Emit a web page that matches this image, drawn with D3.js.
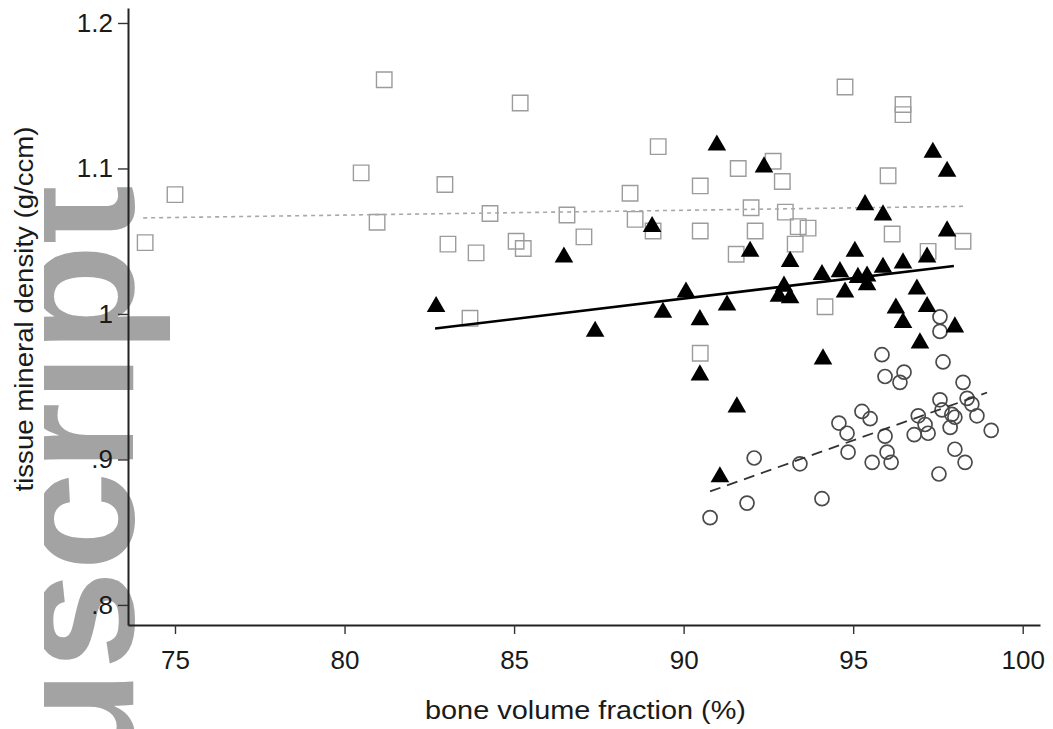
<!DOCTYPE html>
<html><head><meta charset="utf-8">
<script src="https://cdn.jsdelivr.net/npm/d3@7"></script>
<style>body{margin:0;background:#fff}svg{display:block}</style>
</head><body><svg id="c" width="1053" height="729"></svg>
<script>
// ---- data ----
const squareX=[74.12,75.0,80.49,81.17,80.96,82.96,83.05,83.70,83.88,84.29,85.06,85.27,85.18,86.56,87.06,88.42,88.57,89.10,89.25,90.49,90.49,90.49,91.55,91.61,91.99,92.11,92.64,92.91,93.0,93.29,93.38,93.67,94.17,94.76,96.03,96.15,96.47,96.47,97.21,98.24];
const squareY=[1.049,1.082,1.097,1.161,1.063,1.089,1.048,0.997,1.042,1.069,1.050,1.045,1.145,1.068,1.053,1.083,1.065,1.057,1.115,1.088,1.057,0.973,1.041,1.100,1.073,1.057,1.105,1.091,1.070,1.048,1.060,1.059,1.005,1.156,1.095,1.055,1.144,1.137,1.043,1.050];
const triangleX=[82.70,86.47,87.39,89.07,89.39,90.07,90.48,90.48,90.98,91.07,91.28,91.57,91.96,92.37,92.96,92.81,93.14,93.14,94.08,94.11,94.61,94.76,95.05,95.14,95.41,95.41,95.35,95.88,95.88,96.26,96.47,96.47,96.88,96.97,97.18,97.18,97.35,97.77,97.77,98.00];
const triangleY=[1.005,1.039,0.988,1.060,1.001,1.015,0.996,0.958,1.116,0.888,1.006,0.936,1.043,1.101,1.019,1.012,1.011,1.036,1.027,0.969,1.029,1.015,1.043,1.025,1.026,1.020,1.075,1.068,1.032,1.004,1.035,0.994,1.017,0.980,1.039,1.005,1.111,1.098,1.057,0.991];
const circleX=[90.78,91.87,92.08,94.08,93.43,94.58,94.82,94.85,95.26,95.50,95.56,95.94,96.00,96.12,95.85,95.94,96.38,96.50,97.56,97.56,97.65,96.80,96.92,97.12,97.21,97.56,97.62,97.91,97.86,98.00,98.24,98.36,98.50,98.65,98.00,98.30,97.53,99.07];
const circleY=[0.860,0.870,0.901,0.873,0.897,0.925,0.918,0.905,0.933,0.928,0.898,0.916,0.905,0.898,0.972,0.957,0.953,0.960,0.998,0.988,0.967,0.917,0.930,0.924,0.918,0.941,0.934,0.931,0.922,0.929,0.953,0.942,0.938,0.930,0.907,0.898,0.890,0.920];
// fitted lines (endpoints)
const squareFitX=[74.06,98.30], squareFitY=[1.066,1.074];
const triangleFitX=[82.67,97.97], triangleFitY=[0.990,1.033];
const circleFitX=[90.78,98.95], circleFitY=[0.878,0.946];
// ticks
const xTicks=[75,80,85,90,95,100];
const xTickLabels=["75","80","85","90","95","100"];
const yTicks=[0.8,0.9,1.0,1.1,1.2];
const yTickLabels=[".8",".9","1","1.1","1.2"];
const xTitle="bone volume fraction (%)";
const yTitle="tissue mineral density (g/ccm)";
const watermark="nuscript";

// ---- drawing ----
const svg=d3.select("#c");
svg.append("rect").attr("width",1053).attr("height",729).attr("fill","#fff");
const FONT="'Liberation Sans', Arial, Helvetica, sans-serif";

// watermark (behind chart), clipped on its left like the reference
svg.append("defs").append("clipPath").attr("id","wm")
  .append("rect").attr("x",44).attr("y",0).attr("width",1009).attr("height",729);
svg.append("g").attr("clip-path","url(#wm)")
  .append("text")
  .attr("transform","translate(133,185) rotate(-90)")
  .attr("text-anchor","end")
  .attr("font-family",FONT)
  .attr("font-weight","bold")
  .attr("font-size",178)
  .attr("fill","#a3a3a3")
  .text(watermark);

const x=d3.scaleLinear().domain([73.614,100.51]).range([128,1040]);
const y=d3.scaleLinear().domain([0.7862,1.2103]).range([625,8]);

const gx=svg.append("g").attr("transform","translate(0,625)")
  .call(d3.axisBottom(x).tickValues(xTicks).tickSize(9).tickSizeOuter(0).tickPadding(17)
    .tickFormat((d,i)=>xTickLabels[i]));
const gy=svg.append("g").attr("transform","translate(128,0)")
  .call(d3.axisLeft(y).tickValues(yTicks).tickSize(10).tickSizeOuter(0).tickPadding(5)
    .tickFormat((d,i)=>yTickLabels[i]));
[gx,gy].forEach(g=>{
  g.select(".domain").attr("stroke","#222").attr("stroke-width",2);
  g.selectAll(".tick line").attr("stroke","#333").attr("stroke-width",1.4);
  g.selectAll(".tick text").attr("font-family",FONT).attr("font-size",26).attr("fill","#1a1a1a");
});

svg.append("text").attr("x",(425+746)/2).attr("y",719).attr("text-anchor","middle")
  .attr("font-family",FONT).attr("font-size",26).attr("fill","#1a1a1a")
  .attr("textLength",321).attr("lengthAdjust","spacingAndGlyphs").text(xTitle);
svg.append("text").attr("transform","translate(33,309) rotate(-90)").attr("text-anchor","middle")
  .attr("font-family",FONT).attr("font-size",26).attr("fill","#1a1a1a")
  .attr("textLength",365).attr("lengthAdjust","spacingAndGlyphs").text(yTitle);

const line=d3.line().x(d=>x(d[0])).y(d=>y(d[1]));
const zip=(a,b)=>a.map((v,i)=>[v,b[i]]);

// squares
svg.append("g").selectAll("path").data(zip(squareX,squareY)).join("path")
  .attr("d",d3.symbol(d3.symbolSquare,240)())
  .attr("transform",d=>`translate(${x(d[0])},${y(d[1])})`)
  .attr("fill","none").attr("stroke","#9c9c9c").attr("stroke-width",1.4);
svg.append("path").datum(zip(squareFitX,squareFitY)).attr("d",line)
  .attr("fill","none").attr("stroke","#a8a8a8").attr("stroke-width",1.6).attr("stroke-dasharray","4,4");

// circles
svg.append("g").selectAll("circle").data(zip(circleX,circleY)).join("circle")
  .attr("cx",d=>x(d[0])).attr("cy",d=>y(d[1])).attr("r",7)
  .attr("fill","none").attr("stroke","#4a4a4a").attr("stroke-width",1.7);
svg.append("path").datum(zip(circleFitX,circleFitY)).attr("d",line)
  .attr("fill","none").attr("stroke","#333").attr("stroke-width",1.8).attr("stroke-dasharray","11,7");

// triangles
svg.append("g").selectAll("path").data(zip(triangleX,triangleY)).join("path")
  .attr("d",d3.symbol(d3.symbolTriangle,150)())
  .attr("transform",d=>`translate(${x(d[0])},${y(d[1])})`)
  .attr("fill","#000");
svg.append("path").datum(zip(triangleFitX,triangleFitY)).attr("d",line)
  .attr("fill","none").attr("stroke","#000").attr("stroke-width",2.6);
</script></body></html>
